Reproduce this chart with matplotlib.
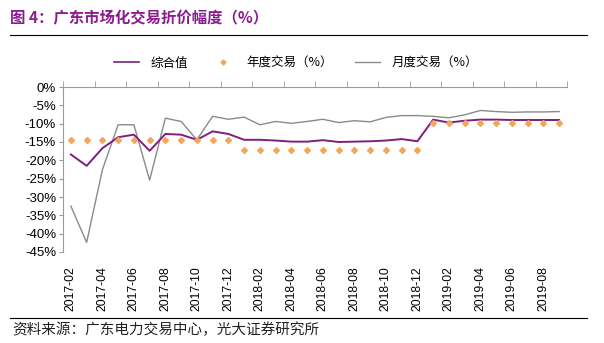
import numpy as np
import matplotlib
matplotlib.use("Agg")
import matplotlib.pyplot as plt
from matplotlib.lines import Line2D

plt.rcParams['font.family'] = ['Noto Sans CJK SC', 'DejaVu Sans']

# data
months = ['2017-02', '2017-03', '2017-04', '2017-05', '2017-06', '2017-07', '2017-08', '2017-09',
          '2017-10', '2017-11', '2017-12', '2018-01', '2018-02', '2018-03', '2018-04', '2018-05',
          '2018-06', '2018-07', '2018-08', '2018-09', '2018-10', '2018-11', '2018-12', '2019-01',
          '2019-02', '2019-03', '2019-04', '2019-05', '2019-06', '2019-07', '2019-08', '2019-09']
combined = [-18.4, -21.5, -16.7, -13.7, -13.0, -17.4, -12.8, -13.0,
            -14.4, -12.1, -12.8, -14.4, -14.4, -14.6, -14.9, -14.9,
            -14.5, -15.0, -14.9, -14.8, -14.6, -14.2, -14.8, -8.9,
            -9.7, -9.2, -8.9, -8.9, -9.0, -9.0, -9.0, -9.0]
annual = [-14.5] * 11 + [-17.1] * 12 + [-9.9] * 9
monthly = [-32.5, -42.4, -22.6, -10.3, -10.3, -25.4, -8.5, -9.4,
           -14.4, -8.0, -8.8, -8.2, -10.3, -9.4, -9.9, -9.4,
           -8.8, -9.7, -9.2, -9.5, -8.3, -7.8, -7.8, -8.0,
           -8.4, -7.6, -6.4, -6.7, -6.9, -6.8, -6.8, -6.7]
yticks = [0, -5, -10, -15, -20, -25, -30, -35, -40, -45]

purple = '#7E1F80'
grey = '#8A8A8A'
orange = '#F2A65A'
spine_c = '#9A9A9A'

fig = plt.figure(figsize=(6.04, 3.43), dpi=100)
ax = fig.add_axes([63 / 604, 1 - 252 / 343, 504 / 604, 165 / 343])

x = np.arange(len(months))
ax.plot(x, monthly, color=grey, lw=1.0, zorder=2)
ax.plot(x, combined, color=purple, lw=1.4, zorder=3)
ax.plot(x, annual, ls='none', marker='D', ms=3, color=orange, mec=orange, zorder=4)

ax.set_xlim(-0.5, len(months) - 0.5)
ax.set_ylim(-45, 0)
ax.set_yticks(yticks)
ax.set_yticklabels([f'{v}%' for v in yticks], family='Liberation Sans', fontsize=9.5)
ax.tick_params(axis='y', length=3, color=spine_c, pad=2)

# category labels every two months, shown below the plot
ax.set_xticks(x[::2])
ax.set_xticklabels(months[::2], rotation=90, family='Liberation Sans', fontsize=8.8)
ax.tick_params(axis='x', which='major', length=0, pad=10)
# tick marks on the top axis line at category boundaries
ax.set_xticks(np.arange(-0.5, len(months), 2), minor=True)
ax.tick_params(axis='x', which='minor', top=True, bottom=False, direction='out',
               length=4, color=spine_c)

for s in ['right', 'bottom']:
    ax.spines[s].set_visible(False)
ax.spines['left'].set_color(spine_c)
ax.spines['top'].set_color(spine_c)

# legend
handles = [Line2D([], [], color=purple, lw=1.2),
           Line2D([], [], ls='none', marker='D', ms=2.5, color=orange),
           Line2D([], [], color=grey, lw=1.0)]
fig.legend(handles, ['综合值', '年度交易（%）', '月度交易（%）'], loc='center',
           bbox_to_anchor=(296 / 604, 1 - 63 / 343), ncol=3, frameon=False, fontsize=9,
           handlelength=2.0, columnspacing=1.8, handletextpad=0.9)

# title, rules and source
fig.text(10 / 604, 1 - 18 / 343, '图 4：广东市场化交易折价幅度（%）', color='#8B1C8E',
         fontsize=11.1, fontweight='bold', va='center', ha='left')
fig.add_artist(Line2D([10 / 604, 587 / 604], [1 - 35 / 343] * 2, color='black', lw=0.8))
fig.add_artist(Line2D([10 / 604, 587 / 604], [1 - 318 / 343] * 2, color='black', lw=0.8))
fig.text(12 / 604, 1 - 330 / 343, '资料来源：广东电力交易中心，光大证券研究所', color='#222222',
         fontsize=10.5, va='center', ha='left')

fig.savefig('out.png', dpi=100)
